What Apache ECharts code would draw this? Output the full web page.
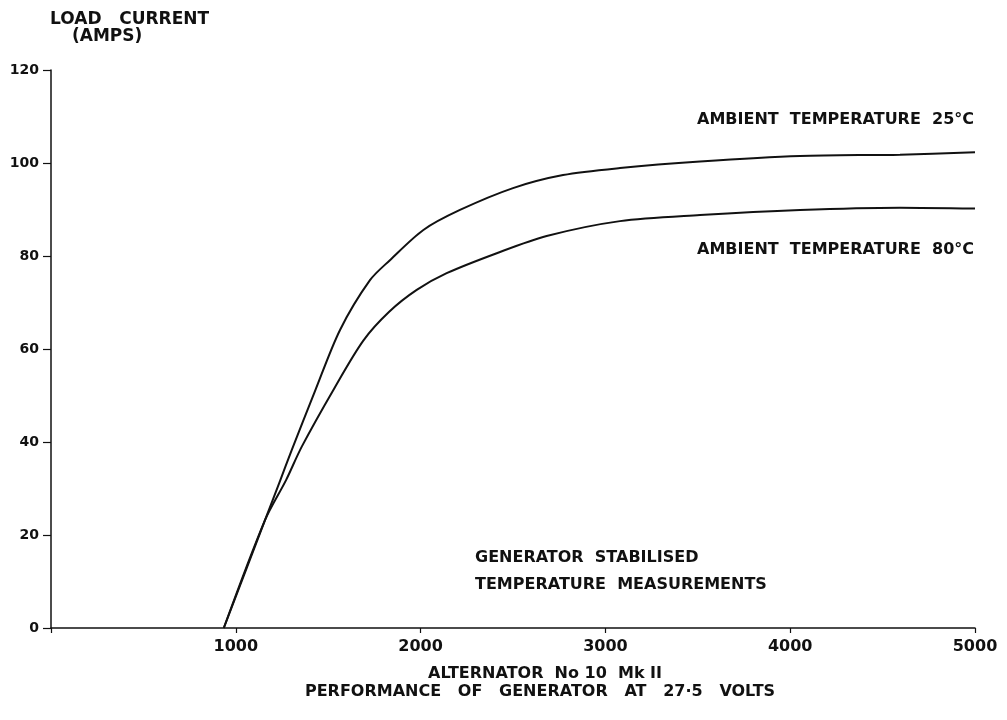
<!DOCTYPE html>
<html>
<head>
<meta charset="utf-8">
<script src="https://cdn.jsdelivr.net/npm/echarts@6/dist/echarts.min.js"></script>
<style>
  html, body { margin: 0; padding: 0; background: #fff; }
  #chart { width: 1007px; height: 720px; }
</style>
</head>
<body>
<div id="chart"></div>
<script>
// speed (rpm) vs load current (amps)
const rpm25 = [935, 1158, 1239, 1302, 1429, 1564, 1726, 1834, 2015, 2213, 2500, 2771, 3079, 3512, 4053, 4594, 5000];
const amps25 = [0, 23.2, 31.6, 38.2, 51, 64.1, 74.8, 79.1, 85.6, 89.9, 94.6, 97.4, 98.9, 100.3, 101.5, 101.8, 102.3];
const rpm80 = [935, 1158, 1272, 1357, 1528, 1690, 1830, 1979, 2141, 2412, 2682, 3079, 3512, 4053, 4594, 5000];
const amps80 = [0, 23.2, 31.8, 39, 51.2, 61.8, 68, 72.7, 76.3, 80.6, 84.3, 87.5, 88.8, 89.9, 90.4, 90.2];
const xTicks = [0, 1000, 2000, 3000, 4000, 5000];
const yTicks = [0, 20, 40, 60, 80, 100, 120];

const ink = '#111';
const font = 'DejaVu Sans';

const toPairs = (xs, ys) => xs.map((x, i) => [x, ys[i]]);

const chart = echarts.init(document.getElementById('chart'), null, { renderer: 'canvas' });

const note = (text, x, y, size, align) => ({
  type: 'text', x: x, y: y, silent: true,
  style: {
    text: text, font: 'bold ' + (size || 16) + 'px "DejaVu Sans"', fill: ink,
    align: align || 'left', verticalAlign: 'middle'
  }
});

const curve = (name, xs, ys) => ({
  name: name,
  type: 'line',
  smooth: 0.3,
  symbol: 'none',
  lineStyle: { color: ink, width: 2 },
  data: toPairs(xs, ys)
});

const option = {
  animation: false,
  backgroundColor: '#fff',
  textStyle: { fontFamily: font, color: ink },
  grid: { left: 51, right: 32, top: 70, bottom: 92 },
  xAxis: {
    type: 'value',
    min: xTicks[0],
    max: xTicks[xTicks.length - 1],
    interval: 1000,
    splitLine: { show: false },
    axisLine: { lineStyle: { color: ink, width: 1.5 } },
    axisTick: { length: 5, lineStyle: { color: ink, width: 1.2 } },
    axisLabel: {
      color: ink, fontFamily: font, fontSize: 16, fontWeight: 'bold', margin: 11,
      formatter: v => (v === 0 ? '' : String(v))
    }
  },
  yAxis: {
    type: 'value',
    min: yTicks[0],
    max: yTicks[yTicks.length - 1],
    interval: 20,
    splitLine: { show: false },
    axisLine: { show: true, lineStyle: { color: ink, width: 1.5 } },
    axisTick: { show: true, length: 8, lineStyle: { color: ink, width: 1.2 } },
    axisLabel: { color: ink, fontFamily: font, fontSize: 14, fontWeight: 'bold', margin: 12 }
  },
  graphic: [
    note('LOAD   CURRENT', 50, 20, 17),
    note('(AMPS)', 72, 37, 17),
    note('AMBIENT  TEMPERATURE  25°C', 697, 120),
    note('AMBIENT  TEMPERATURE  80°C', 697, 250),
    note('GENERATOR  STABILISED', 475, 558),
    note('TEMPERATURE  MEASUREMENTS', 475, 585),
    note('ALTERNATOR  No 10  Mk II', 545, 674, 16, 'center'),
    note('PERFORMANCE   OF   GENERATOR   AT   27·5   VOLTS', 540, 692, 16, 'center')
  ],
  series: [
    curve('25°C', rpm25, amps25),
    curve('80°C', rpm80, amps80)
  ]
};

chart.setOption(option);
window.addEventListener('resize', chart.resize);
</script>
</body>
</html>
